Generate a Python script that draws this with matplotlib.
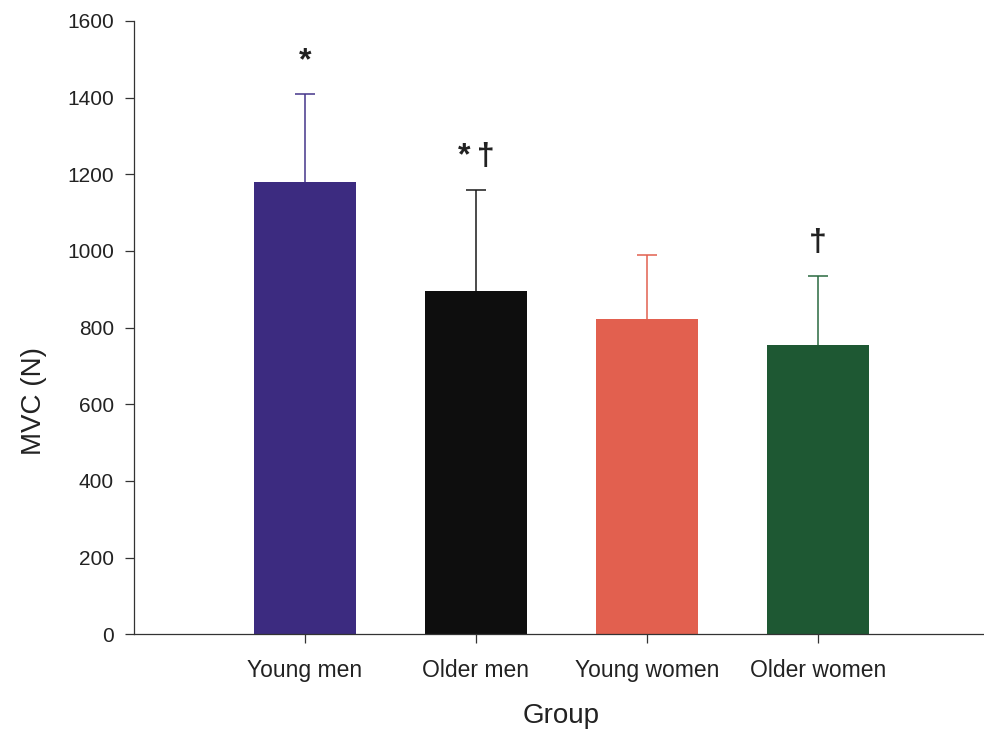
import numpy as np
import matplotlib.pyplot as plt

plt.rcParams['font.family'] = ['Liberation Sans', 'DejaVu Sans']

groups = ['Young men', 'Older men', 'Young women', 'Older women']
mvc_mean = [1181, 896, 822, 755]
mvc_sd = [228, 264, 168, 180]
signif = ['*', '*\u2009\u2020', '', '\u2020']
bar_colors = ['#3c2b80', '#0e0e0e', '#e2604f', '#1e5833']
err_colors = ['#45358a', '#1a1a1a', '#e2604f', '#2a6a40']
yticks = [0, 200, 400, 600, 800, 1000, 1200, 1400, 1600]

fig = plt.figure(figsize=(9.84, 7.4), dpi=100)
ax = fig.add_axes([134 / 984, 1 - 634.3 / 740, 855 / 984, 613.3 / 740])

x = np.arange(len(groups))
ax.bar(x, mvc_mean, width=0.6, color=bar_colors, zorder=2)
for i in range(len(groups)):
    # upper error only, so drop the cap sitting on the bar top
    eb = ax.errorbar(x[i], mvc_mean[i], yerr=[[0], [mvc_sd[i]]], fmt='none',
                     ecolor=err_colors[i], elinewidth=1.1, capsize=7,
                     capthick=1.1, zorder=1)
    eb[1][0].set_visible(False)
    if signif[i]:
        ax.annotate(signif[i], xy=(x[i], mvc_mean[i] + mvc_sd[i]),
                    xytext=(0, 13), textcoords='offset points',
                    ha='center', va='bottom', fontsize=23,
                    fontweight='bold', color='#222222')

ax.set_xlim(-1, 4)
ax.set_ylim(0, 1600)
ax.set_xticks(x)
ax.set_xticklabels(groups)
ax.set_yticks(yticks)

for side in ['top', 'right']:
    ax.spines[side].set_visible(False)
for side in ['left', 'bottom']:
    ax.spines[side].set_color('#333333')
    ax.spines[side].set_linewidth(0.9)

ax.tick_params(axis='both', direction='out', length=6.5, width=0.9,
               color='#333333', labelcolor='#222222')
ax.tick_params(axis='y', labelsize=15, pad=8)
ax.tick_params(axis='x', labelsize=16.5, pad=11)

ax.set_ylabel('MVC (N)', fontsize=20, color='#222222')
ax.set_xlabel('Group', fontsize=20, color='#222222')
ax.yaxis.set_label_coords(-0.102, 0.38)
ax.xaxis.set_label_coords(0.5, -0.112)

fig.savefig('out.png', dpi=100, facecolor='white')
